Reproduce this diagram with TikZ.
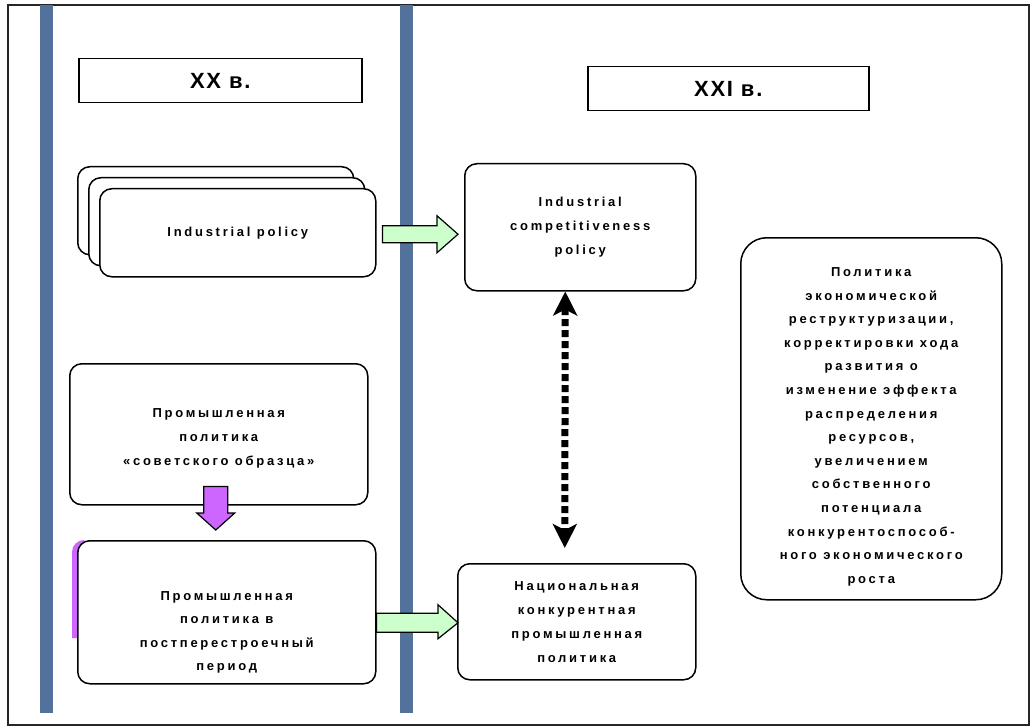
\documentclass[tikz,border=0pt]{standalone}
\usepackage{fontspec}
\setmainfont{Liberation Sans}
\newfontfamily\bxf{Liberation Sans}[LetterSpace=21]
\newfontfamily\hdf{Liberation Sans}[LetterSpace=8]
\usetikzlibrary{arrows.meta,calc}
\definecolor{barblue}{HTML}{52729C}
\definecolor{lgreen}{HTML}{CCFFCC}
\definecolor{myviolet}{HTML}{CC66FF}
\begin{document}
\begin{tikzpicture}[x=1pt,y=-1pt,
  rbox/.style={draw, line width=1.5pt, fill=white, rounded corners=12pt, anchor=north west, inner sep=0pt},
  hbox/.style={draw, line width=1.5pt, fill=white, anchor=north west, inner sep=0pt, font=\hdf\bfseries\fontsize{22}{26}\selectfont},
  txt/.style={align=center, font=\bxf\bfseries\fontsize{13}{24}\selectfont},
  garrow/.style={draw, line width=1.2pt, fill=lgreen, line join=miter},
  parrow/.style={draw, line width=1.2pt, fill=myviolet, line join=miter},
  ]
\useasboundingbox (0,0) rectangle (1032,727);
\fill[white] (0,0) rectangle (1032,727);
\draw[line width=1.5pt, draw=black!85] (8,5) rectangle (1029,725);
\fill[barblue] (40,5) rectangle (53,713);
\fill[barblue] (400,5) rectangle (413,713);

% headers
\node[hbox, minimum width=283pt, minimum height=44pt] (xx) at (78,58) {XX в.};
\node[hbox, minimum width=281pt, minimum height=44pt] (xxi) at (587,66) {XXI в.};

% stacked industrial policy
\node[rbox, minimum width=276pt, minimum height=88pt] (ipb) at (77,166) {};
\node[rbox, minimum width=276pt, minimum height=88pt] (ipm) at (88,177) {};
\node[rbox, txt, minimum width=276pt, minimum height=88pt] (ip) at (99,188) {Industrial policy};

% competitiveness
\node[rbox, txt, minimum width=231pt, minimum height=127pt] (comp) at (464,163)
  {Industrial\\competitiveness\\policy};

% soviet
\node[rbox, minimum width=298pt, minimum height=141pt] (sov) at (69,363) {};
\node[txt] at ($(sov.center)+(0,4)$) {Промышленная\\политика\\«советского образца»};

% post
\fill[myviolet] (72,638) -- (72,552) to[out=90,in=180] (84,540) -- (84,638) -- cycle;
\node[rbox, minimum width=298pt, minimum height=143pt] (post) at (77,540) {};
\node[txt, font=\bxf\bfseries\fontsize{13}{23.5}\selectfont] at ($(post.center)+(0,20)$)
  {Промышленная\\политика в\\постперестроечный\\период};

% national
\node[rbox, txt, minimum width=238pt, minimum height=116pt] (nat) at (457,563)
  {Национальная\\конкурентная\\промышленная\\политика};

% right box
\node[rbox, rounded corners=26pt, minimum width=261pt, minimum height=362pt] (rb) at (740,237) {};
\node[txt, font=\bxf\bfseries\fontsize{13}{23.6}\selectfont] at ($(rb.center)+(0,8)$)
  {Политика\\экономической\\реструктуризации,\\корректировки хода\\развития о\\изменение эффекта\\распределения\\ресурсов,\\увеличением\\собственного\\потенциала\\конкурентоспособ-\\ного экономического\\роста};

% green arrow 1
\coordinate (g1s) at ($(ip.east)+(6,1.5)$);
\coordinate (g1e) at ($(comp.west |- g1s)+(-6,0)$);
\draw[garrow] ($(g1s)+(0,-8.5)$) -- ($(g1e)+(-21,-8.5)$) -- ($(g1e)+(-21,-18.5)$) -- (g1e)
  -- ($(g1e)+(-21,18.5)$) -- ($(g1e)+(-21,8.5)$) -- ($(g1s)+(0,8.5)$) -- cycle;

% green arrow 2
\coordinate (g2s) at ($(post.east)+(0,10.5)$);
\coordinate (g2e) at ($(nat.west |- g2s)+(1,0)$);
\draw[garrow] ($(g2s)+(0,-9.5)$) -- ($(g2e)+(-20,-9.5)$) -- ($(g2e)+(-20,-18)$) -- (g2e)
  -- ($(g2e)+(-20,16)$) -- ($(g2e)+(-20,9.5)$) -- ($(g2s)+(0,9.5)$) -- cycle;

% purple arrow
\coordinate (p1) at ($(sov.south)+(-3,-19)$);
\coordinate (p2) at ($(post.north)+(-11,-10)$);
\draw[parrow] ($(p1)+(-12,0)$) -- ($(p1)+(12,0)$) -- ($(p2)+(12,-17)$) -- ($(p2)+(19,-17)$)
  -- (p2) -- ($(p2)+(-19,-17)$) -- ($(p2)+(-12,-17)$) -- cycle;

% dashed double arrow
\draw[line width=7pt, dash pattern=on 7pt off 4pt,
  {Stealth[length=24pt,width=24pt,inset=6pt]}-{Stealth[length=24pt,width=24pt,inset=6pt]}]
  ($(comp.south)+(-15,0)$) -- ($(nat.north)+(-12,-15)$);
\end{tikzpicture}
\end{document}
